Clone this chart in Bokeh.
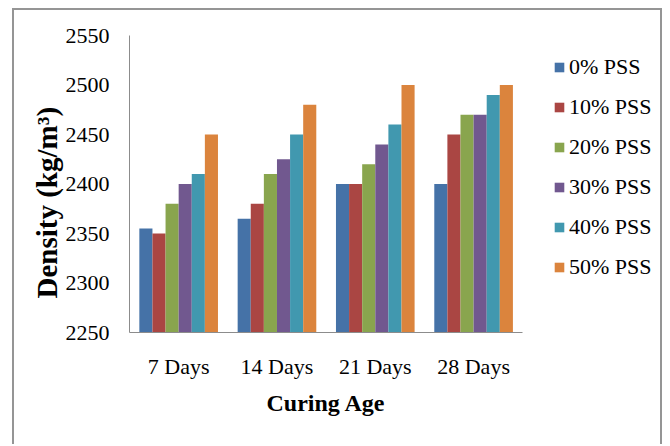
from bokeh.plotting import figure
from bokeh.models import ColumnDataSource, FixedTicker, Range1d, Title, Legend
from bokeh.transform import dodge
from bokeh.embed import file_html
from bokeh.resources import INLINE

categories = ["7 Days", "14 Days", "21 Days", "28 Days"]
series_names = ["0% PSS", "10% PSS", "20% PSS", "30% PSS", "40% PSS", "50% PSS"]
pss_0 = [2355, 2365, 2400, 2400]
pss_10 = [2350, 2380, 2400, 2450]
pss_20 = [2380, 2410, 2420, 2470]
pss_30 = [2400, 2425, 2440, 2470]
pss_40 = [2410, 2450, 2460, 2490]
pss_50 = [2450, 2480, 2500, 2500]
y_ticks = [2250, 2300, 2350, 2400, 2450, 2500, 2550]
colors = ["#4572A7", "#AA4643", "#89A54E", "#71588F", "#4198AF", "#DB843D"]

series_values = [pss_0, pss_10, pss_20, pss_30, pss_40, pss_50]
xc = [i + 0.5 for i in range(len(categories))]
data = {"xc": xc, "cat": categories}
for i, vals in enumerate(series_values):
    data[f"s{i}"] = vals
src = ColumnDataSource(data)

FONT = "Liberation Serif"

# frame is wider than the category area so that the legend fits inside it
x_end = 5.34
p = figure(x_range=Range1d(0, x_end), y_range=Range1d(2250, 2550),
           width=650, height=436, output_backend="svg", toolbar_location=None,
           min_border_left=115, min_border_right=10, min_border_top=25,
           min_border_bottom=114)

bw = 0.1333
items = []
for i, name in enumerate(series_names):
    r = p.vbar(x=dodge("xc", (i - 2.5) * bw), top=f"s{i}", bottom=2250,
               width=bw, source=src, fill_color=colors[i], line_color=None)
    items.append((name, [r]))

p.outline_line_color = None
p.xgrid.visible = False
p.ygrid.visible = False

for ax in (p.xaxis[0], p.yaxis[0]):
    ax.axis_line_color = "#8c8c8c"
    ax.axis_line_width = 1
    ax.major_tick_line_color = None
    ax.minor_tick_line_color = None
    ax.major_tick_in = 0
    ax.major_tick_out = 0
    ax.minor_tick_in = 0
    ax.minor_tick_out = 0
    ax.major_label_text_font = FONT
    ax.major_label_text_font_size = "22px"
    ax.major_label_text_color = "#000000"

p.xaxis.ticker = FixedTicker(ticks=xc, minor_ticks=[])
p.xaxis.major_label_overrides = {x: c for x, c in zip(xc, categories)}
p.xaxis.bounds = (0, len(categories))
p.yaxis.ticker = FixedTicker(ticks=y_ticks, minor_ticks=[])
p.yaxis.major_label_standoff = 20
p.xaxis.major_label_standoff = 21

xtitle = Title(text="Curing Age", align="left", offset=137, standoff=12,
               text_font=FONT, text_font_size="24px", text_font_style="bold",
               text_color="#000000")
p.add_layout(xtitle, "below")

ytitle = Title(text="Density (kg/m³)", align="left", offset=34, standoff=0,
               text_font=FONT, text_font_size="29px", text_font_style="bold",
               text_color="#000000")
p.add_layout(ytitle, "left")

lg = Legend(items=items, location=(424, 52))
lg.padding = 0
lg.margin = 0
lg.spacing = 14
lg.label_height = 25
lg.glyph_width = 12
lg.glyph_height = 12
lg.label_standoff = 4
lg.label_text_font = FONT
lg.label_text_font_size = "22px"
lg.label_text_color = "#000000"
lg.border_line_color = None
lg.background_fill_alpha = 0
p.add_layout(lg)

p.styles = {"margin-left": "12px", "margin-top": "8px",
            "border-top": "2px solid #959595",
            "border-left": "2px solid #959595", "border-right": "2px solid #959595"}

open("out.html", "w").write(file_html(p, INLINE))
